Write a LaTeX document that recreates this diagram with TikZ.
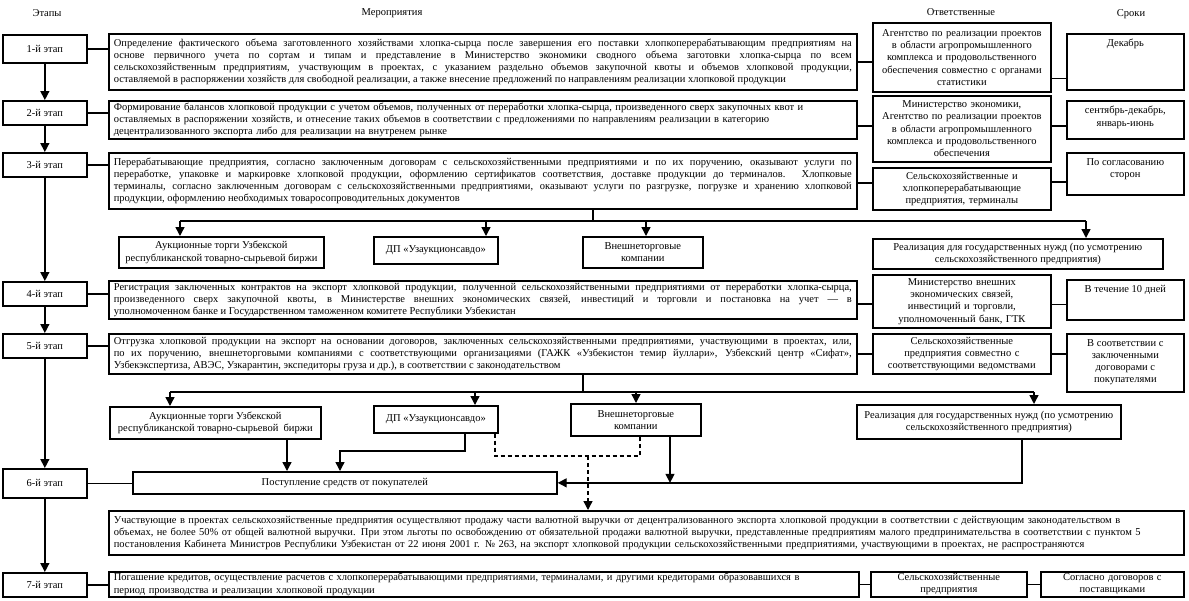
\documentclass[tikz,border=0pt]{standalone}
\usepackage{fontspec}
\setmainfont{Liberation Serif}
\usetikzlibrary{arrows.meta,positioning}

\tikzset{
  stage/.style={draw, line width=1.7pt, anchor=north west, minimum width=84pt, inner sep=0pt},
  act/.style={draw, line width=1.7pt, anchor=north west, text width=738pt, inner xsep=5pt, inner ysep=1pt, align=justify},
  resp/.style={draw, line width=1.7pt, anchor=north west, text width=170pt, inner xsep=4pt, inner ysep=1pt, align=center},
  term/.style={draw, line width=1.7pt, anchor=north west, minimum width=117pt},
  toplab/.style={anchor=north, align=center, inner sep=2pt, yshift=-4pt},
  branch/.style={draw, line width=1.7pt, anchor=north west, align=center, inner sep=2pt},
  link/.style={line width=1.4pt},
  arr/.style={line width=1.4pt, ->},
  dashlink/.style={line width=1.4pt, dash pattern=on 4pt off 3pt}
}

\begin{document}
\begin{tikzpicture}[x=1pt,y=-1pt,>={Triangle[length=9pt,width=9pt]},font=\fontsize{10.5}{12.3}\selectfont]
  \useasboundingbox (0,0) rectangle (1189,600);
  % headings
  \node (h1) at (47,13) {Этапы};
  \node (h2) at (392,13) {Мероприятия};
  \node (h3) at (961,12) {Ответственные};
  \node (h4) at (1131,14) {Сроки};

  % stages
  \node[stage, minimum height=28pt] (s1) at (2,34) {1-й этап};
  \node[stage, minimum height=24pt] (s2) at (2,100) {2-й этап};
  \node[stage, minimum height=24pt] (s3) at (2,152) {3-й этап};
  \node[stage, minimum height=24pt] (s4) at (2,281) {4-й этап};
  \node[stage, minimum height=24pt] (s5) at (2,333) {5-й этап};
  \node[stage, minimum height=29pt] (s6) at (2,468) {6-й этап};
  \node[stage, minimum height=24pt] (s7) at (2,572) {7-й этап};

  % row 1
  \node[act, minimum height=56pt] (a1) at (108,33) {Определение фактического объема заготовленного хозяйствами хлопка-сырца после завершения его поставки хлопкоперерабатывающим предприятиям на\linebreak основе первичного учета по сортам и типам и представление в Министерство экономики сводного объема заготовки хлопка-сырца по всем\linebreak сельскохозяйственным предприятиям, участвующим в проектах, с указанием раздельно объемов закупочной квоты и объемов хлопковой продукции,\linebreak оставляемой в распоряжении хозяйств для свободной реализации, а также внесение предложений по направлениям реализации хлопковой продукции};
  \node[resp, minimum height=69pt] (r1) at (872,22) {Агентство по реализации проектов\\в области агропромышленного\\комплекса и продовольственного\\обеспечения совместно с органами\\статистики};
  \node[term, minimum height=56pt, label={[toplab]north:Декабрь}] (t1) at (1066,33) {};

  % row 2
  \node[act, align=left, minimum height=38pt] (a2) at (108,100) {Формирование балансов хлопковой продукции  с учетом объемов, полученных от переработки хлопка-сырца, произведенного сверх закупочных квот и\\оставляемых в распоряжении хозяйств, и отнесение таких объемов в соответствии с предложениями по направлениям реализации в категорию\\децентрализованного экспорта либо для реализации на внутренем рынке};
  \node[resp, minimum height=66pt] (r2) at (872,95) {Министерство экономики,\\Агентство по реализации проектов\\в области агропромышленного\\комплекса и продовольственного\\обеспечения};
  \node[term, minimum height=38pt, label={[toplab]north:сентябрь-декабрь,\\январь-июнь}] (t2) at (1066,100) {};

  % row 3
  \node[act, minimum height=56pt] (a3) at (108,152) {Перерабатывающие предприятия, согласно заключенным договорам с сельскохозяйственными предприятиями и по их поручению, оказывают услуги по\linebreak переработке, упаковке и маркировке хлопковой продукции, оформлению сертификатов соответствия, доставке продукции до терминалов. Хлопковые\linebreak терминалы, согласно заключенным договорам с сельскохозяйственными предприятиями, оказывают услуги по разгрузке, погрузке и хранению хлопковой\linebreak продукции, оформлению необходимых товаросопроводительных документов};
  \node[resp, minimum height=42pt] (r3) at (872,167) {Сельскохозяйственные и\\хлопкоперерабатывающие\\предприятия, терминалы};
  \node[term, minimum height=42pt, label={[toplab]north:По согласованию\\сторон}] (t3) at (1066,152) {};

  % branches of row 3
  \node[branch, minimum width=205pt, minimum height=31pt] (b1) at (118,236) {Аукционные торги Узбекской\\республиканской товарно-сырьевой биржи};
  \node[branch, minimum width=124pt, minimum height=27pt] (b2) at (373,236) {ДП «Узаукционсавдо»};
  \node[branch, minimum width=120pt, minimum height=31pt] (b3) at (582,236) {Внешнеторговые\\компании};
  \node[branch, minimum width=290pt, minimum height=30pt] (b4) at (872,238) {Реализация для государственных нужд (по усмотрению\\сельскохозяйственного предприятия)};

  % row 4
  \node[act, minimum height=38pt] (a4) at (108,280) {Регистрация заключенных контрактов на экспорт хлопковой продукции, полученной сельскохозяйственными предприятиями от переработки хлопка-сырца,\linebreak произведенного сверх закупочной квоты, в Министерстве внешних экономических связей, инвестиций и торговли и постановка на учет — в\linebreak уполномоченном банке и Государственном таможенном комитете Республики Узбекистан};
  \node[resp, minimum height=53pt] (r4) at (872,274) {Министерство внешних\\экономических связей,\\инвестиций и торговли,\\уполномоченный банк, ГТК};
  \node[term, minimum height=40pt, label={[toplab]north:В течение 10 дней}] (t4) at (1066,279) {};

  % row 5
  \node[act, minimum height=40pt] (a5) at (108,333) {Отгрузка хлопковой продукции на экспорт на основании договоров, заключенных сельскохозяйственными предприятиями, участвующими в проектах, или,\linebreak по их поручению, внешнеторговыми компаниями с соответствующими организациями (ГАЖК «Узбекистон темир йуллари», Узбекский центр «Сифат»,\linebreak Узбекэкспертиза, АВЭС, Узкарантин, экспедиторы груза и др.), в соответствии с законодательством};
  \node[resp, minimum height=40pt] (r5) at (872,333) {Сельскохозяйственные\\предприятия совместно с\\соответствующими ведомствами};
  \node[term, minimum height=58pt, label={[toplab]north:В соответствии с\\заключенными\\договорами с\\покупателями}] (t5) at (1066,333) {};

  % branches of row 5
  \node[branch, minimum width=211pt, minimum height=32pt] (b5) at (109,406) {Аукционные торги Узбекской\\республиканской товарно-сырьевой~ биржи};
  \node[branch, minimum width=124pt, minimum height=27pt] (b6) at (373,405) {ДП «Узаукционсавдо»};
  \node[branch, minimum width=130pt, minimum height=32pt] (b7) at (570,403) {Внешнеторговые\\компании};
  \node[branch, minimum width=264pt, minimum height=34pt] (b8) at (856,404) {Реализация для государственных нужд (по усмотрению\\сельскохозяйственного предприятия)};

  % row 6
  \node[branch, minimum width=424pt, minimum height=22pt] (p) at (132,471) {Поступление средств от покупателей};
  \node[act, align=left, text width=1065pt, minimum height=44pt] (u) at (108,510) {Участвующие в проектах сельскохозяйственные предприятия осуществляют продажу части валютной выручки от децентрализованного экспорта хлопковой продукции в соответствии с действующим законодательством в\\объемах, не более 50\% от общей валютной выручки. При этом льготы по освобождению от обязательной продажи валютной выручки, представленные предприятиям малого предпринимательства в соответствии с пунктом 5\\постановления Кабинета Министров Республики Узбекистан от 22 июня 2001 г. № 263, на экспорт хлопковой продукции сельскохозяйственными предприятиями, участвующими в проектах, не распространяются};

  % row 7
  \node[act, align=left, text width=740pt, minimum height=25pt] (a7) at (108,571) {Погашение кредитов, осуществление расчетов с хлопкоперерабатывающими предприятиями, терминалами, и другими кредиторами образовавшихся в\\период производства и реализации хлопковой продукции};
  \node[resp, text width=148pt, minimum height=25pt] (r7) at (870,571) {Сельскохозяйственные\\предприятия};
  \node[resp, text width=135pt, minimum height=25pt] (t7) at (1040,571) {Согласно договоров с\\поставщиками};

  % stage arrows
  \foreach \a/\b in {s1/s2,s2/s3,s3/s4,s4/s5,s5/s6,s6/s7} \draw[arr] (\a) -- (\b);

  % row links
  \foreach \s/\a in {s1/a1,s2/a2,s3/a3,s4/a4,s5/a5,s6/p,s7/a7} \draw[link] (\s.east) -- (\s.east -| \a.west);
  \draw[link] (a1.east) -- (a1.east -| r1.west);
  \draw[link] ([yshift=-6pt]a2.east) -- ([yshift=-6pt]a2.east -| r2.west);
  \draw[link] ([yshift=-2pt]a3.east) -- ([yshift=-2pt]a3.east -| r3.west);
  \draw[link] ([yshift=-4pt]a4.east) -- ([yshift=-4pt]a4.east -| r4.west);
  \draw[link] (a5.east) -- (a5.east -| r5.west);
  \draw[link] (a7.east) -- (a7.east -| r7.west);
  \draw[link] ([yshift=-21pt]r1.east) -- ([yshift=-21pt]r1.east -| t1.west);
  \draw[link] ([yshift=3pt]r2.east) -- ([yshift=3pt]r2.east -| t2.west);
  \draw[link] ([yshift=7pt]r3.east) -- ([yshift=7pt]r3.east -| t3.west);
  \draw[link] ([yshift=-3pt]r4.east) -- ([yshift=-3pt]r4.east -| t4.west);
  \draw[link] (r5.east) -- (r5.east -| t5.west);
  \draw[link] (r7.east) -- (r7.east -| t7.west);

  % distribution after row 3
  \coordinate (j1) at (593,221);
  \coordinate (j1a) at (180,221);
  \coordinate (j1b) at (486,221);
  \coordinate (j1c) at (646,221);
  \coordinate (j1d) at (1086,221);
  \draw[link] (j1 |- a3.south) -- (j1);
  \draw[link] (j1a) -- (j1d);
  \foreach \j/\b in {j1a/b1,j1b/b2,j1c/b3,j1d/b4} \draw[arr] (\j) -- (\j |- \b.north);

  % distribution after row 5
  \coordinate (j2) at (583,392);
  \coordinate (j2a) at (170,392);
  \coordinate (j2b) at (475,392);
  \coordinate (j2c) at (636,392);
  \coordinate (j2d) at (1034,392);
  \draw[link] (j2 |- a5.south) -- (j2);
  \draw[link] (j2a) -- (j2d);
  \foreach \j/\b in {j2a/b5,j2b/b6,j2c/b7,j2d/b8} \draw[arr] (\j) -- (\j |- \b.north);

  % receipts
  \coordinate (k1) at (287,0);
  \coordinate (k2) at (465,0);
  \coordinate (k3) at (340,451);
  \coordinate (k4) at (670,0);
  \coordinate (k5) at (1022,0);
  \coordinate (k6) at (495,0);
  \coordinate (k7) at (640,456);
  \coordinate (k8) at (588,456);
  \draw[arr] (k1 |- b5.south) -- (k1 |- p.north);
  \draw[arr] (k2 |- b6.south) |- (k3) -- (k3 |- p.north);
  \draw[arr] (k4 |- b7.south) -- (k4 |- p.east);
  \draw[arr] (k5 |- b8.south) |- (p.east);
  \draw[dashlink] (k6 |- b6.south) |- (k7) -- (k7 |- b7.south);
  \draw[dashlink,->] (k8) -- (k8 |- u.north);
\end{tikzpicture}
\end{document}
